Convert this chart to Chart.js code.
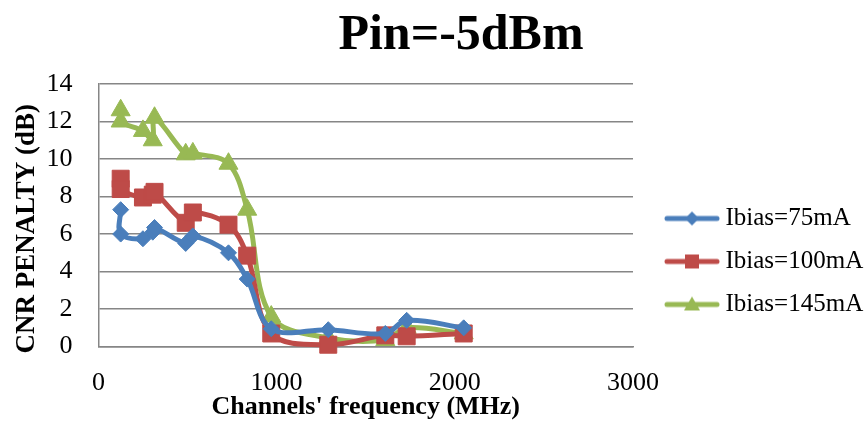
<!DOCTYPE html>
<html>
<head>
<meta charset="utf-8">
<script src="https://cdn.jsdelivr.net/npm/chart.js@4"></script>
<style>
  html, body { margin: 0; padding: 0; background: #fff; }
</style>
</head>
<body>
<canvas id="chart" width="867" height="439"></canvas>
<script>
// channel frequencies (MHz) and CNR penalty (dB)
var freq = [125, 125, 250, 305, 315, 490, 530, 730, 835, 970, 1290, 1610, 1730, 2050];
var ibias75 = [7.3, 6.0, 5.75, 6.1, 6.35, 5.5, 5.9, 5.0, 3.6, 0.95, 0.9, 0.7, 1.4, 1.0];
var ibias100 = [8.95, 8.4, 7.95, 8.1, 8.25, 6.6, 7.15, 6.5, 4.85, 0.7, 0.1, 0.6, 0.55, 0.7];
var ibias145 = [12.6, 12.0, 11.5, 11.0, 12.2, 10.25, 10.3, 9.75, 7.3, 1.6, 0.46, 0.35, 1.0, 0.7];
var seriesNames = ['Ibias=75mA', 'Ibias=100mA', 'Ibias=145mA'];
var xTicks = [0, 1000, 2000, 3000];
var yTicks = [0, 2, 4, 6, 8, 10, 12, 14];

var lineColors = ['#4a7ebb', '#be4b48', '#98b954'];
var markers = ['rectRot', 'rect', 'triangle'];
var markerSize = [8, 12, 11];

function toPoints(ys) {
  return ys.map(function(y, i) { return {x: freq[i], y: y}; });
}

// legend swatch: line with the marker in the middle (transparent left margin)
function swatch(i) {
  var c = document.createElement('canvas');
  c.width = 76; c.height = 20;
  var g = c.getContext('2d');
  g.strokeStyle = lineColors[i];
  g.lineWidth = 5;
  g.lineCap = 'round';
  g.beginPath(); g.moveTo(23, 10); g.lineTo(73, 10); g.stroke();
  g.fillStyle = lineColors[i];
  g.beginPath();
  if (i === 0) { g.moveTo(48, 3); g.lineTo(55, 10); g.lineTo(48, 17); g.lineTo(41, 10); }
  else if (i === 1) { g.rect(41, 3, 14, 14); }
  else { g.moveTo(48, 2); g.lineTo(56, 16); g.lineTo(40, 16); }
  g.closePath(); g.fill();
  return c;
}
var swatches = [swatch(0), swatch(1), swatch(2)];

var titlePlugin = {
  id: 'titleText',
  afterDraw: function(chart) {
    var ctx = chart.ctx;
    ctx.save();
    ctx.font = 'bold 50px "Liberation Serif"';
    ctx.fillStyle = '#000';
    ctx.textAlign = 'center';
    ctx.textBaseline = 'alphabetic';
    ctx.fillText('Pin=-5dBm', 461, 49);
    ctx.restore();
  }
};

var series = [ibias75, ibias100, ibias145];

new Chart(document.getElementById('chart'), {
  type: 'scatter',
  data: {
    datasets: series.map(function(ys, i) {
      return {
        label: seriesNames[i],
        data: toPoints(ys),
        showLine: true,
        tension: 0.35,
        borderColor: lineColors[i],
        backgroundColor: lineColors[i],
        borderWidth: 5,
        pointStyle: markers[i],
        pointRadius: markerSize[i],
        pointHoverRadius: markerSize[i],
        pointBorderWidth: 1,
        pointBorderColor: lineColors[i],
        clip: false
      };
    })
  },
  options: {
    responsive: false,
    devicePixelRatio: 1,
    animation: false,
    layout: { padding: { top: 84, left: 5, right: 0, bottom: 0 } },
    plugins: {
      title: { display: false },
      tooltip: { enabled: false },
      legend: {
        position: 'right',
        maxWidth: 234,
        labels: {
          usePointStyle: true,
          pointStyleWidth: 62,
          padding: 18,
          color: '#000',
          font: { family: '"Liberation Serif"', size: 25 },
          generateLabels: function(chart) {
            return chart.data.datasets.map(function(ds, i) {
              return {
                text: ds.label,
                pointStyle: swatches[i],
                fillStyle: lineColors[i],
                strokeStyle: lineColors[i],
                lineWidth: 0,
                hidden: false,
                datasetIndex: i
              };
            });
          }
        }
      }
    },
    scales: {
      x: {
        type: 'linear',
        min: 0,
        max: 3000,
        afterBuildTicks: function(axis) { axis.ticks = xTicks.map(function(v) { return {value: v}; }); },
        afterFit: function(axis) { axis.paddingRight = 234; },
        grid: { display: false, drawTicks: false },
        border: { display: true, color: '#868686', width: 1.5 },
        ticks: {
          color: '#000', padding: 21, maxRotation: 0,
          font: { family: '"Liberation Serif"', size: 26 },
          callback: function(v) { return String(v); }
        },
        title: {
          display: true,
          text: "Channels' frequency (MHz)",
          color: '#000',
          padding: { top: -28, bottom: 16 },
          font: { family: '"Liberation Serif"', size: 26, weight: 'bold' }
        }
      },
      y: {
        min: 0,
        max: 14,
        afterBuildTicks: function(axis) { axis.ticks = yTicks.map(function(v) { return {value: v}; }); },
        grid: { color: '#868686', lineWidth: 1.5, drawTicks: false },
        border: { display: true, color: '#868686', width: 1.5 },
        ticks: { color: '#000', padding: 26, font: { family: '"Liberation Serif"', size: 26 } },
        title: {
          display: true,
          text: 'CNR PENALTY (dB)    ',
          color: '#000',
          padding: { top: 6, bottom: -23 },
          font: { family: '"Liberation Serif"', size: 27, weight: 'bold' }
        }
      }
    }
  },
  plugins: [titlePlugin]
});
</script>
</body>
</html>
